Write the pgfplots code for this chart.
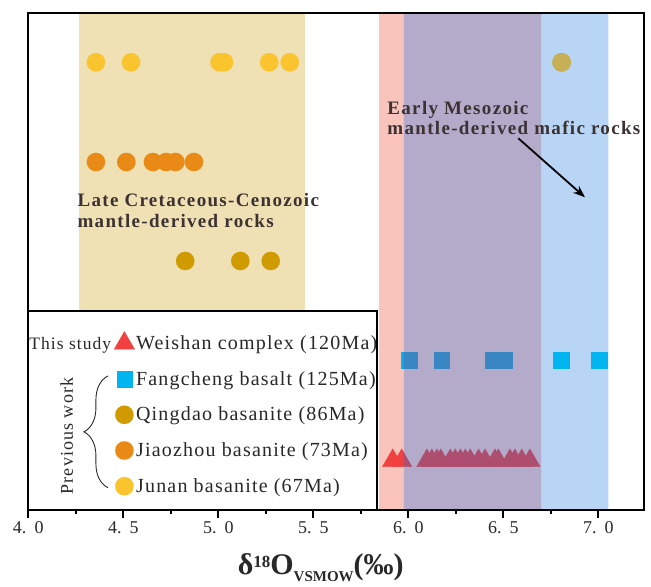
\documentclass[border=0pt]{standalone}
\usepackage{fontspec}
\setmainfont{Liberation Serif}
\newfontfamily\legfont{Liberation Serif}[LetterSpace=6]
\newfontfamily\notefont{Liberation Serif}[LetterSpace=7]
\usepackage{pgfplots}
\pgfplotsset{compat=1.18}
\usetikzlibrary{decorations.pathreplacing,arrows.meta}

\definecolor{tanband}{RGB}{240,225,180}
\definecolor{pinkband}{RGB}{249,196,188}
\definecolor{blueband}{RGB}{184,213,245}
\definecolor{purpleov}{RGB}{112,92,154}
\definecolor{junan}{RGB}{250,196,46}
\definecolor{jiaozhou}{RGB}{234,138,22}
\definecolor{qingdao}{RGB}{208,155,0}
\definecolor{fangcheng}{RGB}{0,180,240}
\definecolor{weishan}{RGB}{240,64,64}
\definecolor{notecol}{RGB}{60,50,50}
\definecolor{txt}{RGB}{40,40,40}

% marker styles of the five suites
\pgfplotsset{
  dot/.style={only marks, mark=*, mark size=9.2bp, color=#1, mark options={solid, fill=#1, draw=#1, line width=0.1bp}},
  sq/.style={only marks, mark=square*, mark size=7.8bp, color=#1, mark options={solid, fill=#1, draw=#1, line width=0.1bp}},
  tri/.style={only marks, mark=triangle*, mark size=12bp, color=#1, mark options={solid, fill=#1, draw=#1, line width=0.1bp}},
}

% delta-18O values of each suite (y = row position)
\pgfplotstableread{
x y
4.356 447.7
4.541 447.7
5.007 447.7
5.030 447.7
5.268 447.7
5.376 447.7
}\junan
\pgfplotstableread{
x y
4.356 348
4.516 348
4.656 348
4.725 348
4.774 348
4.872 348
}\jiaozhou
\pgfplotstableread{
x y
4.826 249
5.116 249
5.276 249
}\qingdao
\pgfplotstableread{
x y
6.005 150
6.174 150
6.446 150
6.504 150
6.804 150
7.004 150
}\fangcheng
\pgfplotstableread{
x y
5.918 49.3
5.965 49.3
6.098 49.3
6.124 49.3
6.151 49.3
6.171 49.3
6.221 49.3
6.247 49.3
6.274 49.3
6.300 49.3
6.326 49.3
6.370 49.3
6.404 49.3
6.456 49.3
6.474 49.3
6.535 49.3
6.561 49.3
6.597 49.3
6.640 49.3
}\weishan

\begin{document}
\begin{tikzpicture}
\path[use as bounding box] (-28.3bp,-77bp) rectangle (622.7bp,510bp);
\begin{axis}[
  scale only axis,
  width=615.7bp, height=497bp,
  xmin=4, xmax=7.2405, ymin=0, ymax=497,
  axis on top,
  axis line style={line width=2bp, black},
  xtick={4,4.5,5,5.5,6,6.5,7},
  xticklabels={4.\hspace{0.45em}0,4.\hspace{0.45em}5,5.\hspace{0.45em}0,5.\hspace{0.45em}5,6.\hspace{0.45em}0,6.\hspace{0.45em}5,7.\hspace{0.45em}0},
  minor x tick num=1,
  xtick pos=bottom, ytick=\empty,
  tick align=outside,
  major tick length=8bp, minor tick length=4bp,
  every tick/.style={line width=2bp, black},
  xticklabel style={font=\fontsize{18bp}{20bp}\selectfont, text=txt},
  xlabel={\textbf{δ\raisebox{7bp}{\fontsize{17bp}{17bp}\selectfont 18}O\raisebox{-7bp}{\fontsize{15bp}{15bp}\selectfont VSMOW}(‰)}},
  xlabel style={at={(rel axis cs:0.475,0)}, anchor=base, yshift=-64bp,
    font=\fontsize{30bp}{32bp}\selectfont, text=txt},
  clip mode=individual,
  legend cell align=left,
  legend style={at={(axis cs:4.4458,179)}, anchor=north west, draw=none, fill=none,
    inner sep=0pt, row sep=11.3bp, column sep=0pt,
    font=\legfont\fontsize{20bp}{22bp}\selectfont, text=txt,
    nodes={inner xsep=0.5bp, inner ysep=1bp}},
  legend image code/.code={\path (-11bp,-12bp) (11bp,12bp);
    \draw[#1] plot coordinates {(0bp,0bp)};},
]
% reference ranges
\addplot[draw=none, fill=tanband, forget plot] coordinates {(4.267,0) (4.267,497) (5.456,497) (5.456,0)} \closedcycle;
\addplot[draw=none, fill=pinkband, forget plot] coordinates {(5.847,0) (5.847,497) (5.976,497) (5.976,0)} \closedcycle;
\addplot[draw=none, fill=blueband, forget plot] coordinates {(6.701,0) (6.701,497) (7.053,497) (7.053,0)} \closedcycle;
\addplot[dot=qingdao, mark options={fill opacity=0.65, draw opacity=0.65}, forget plot]
  coordinates {(6.807,447.7)};

% samples
\addplot[dot=junan, forget plot] table {\junan};
\addplot[dot=jiaozhou, forget plot] table {\jiaozhou};
\addplot[dot=qingdao, forget plot] table {\qingdao};
\addplot[sq=fangcheng, forget plot] table {\fangcheng};
\addplot[tri=weishan, forget plot] table {\weishan};

% overlap of the two mantle ranges
\addplot[draw=none, fill=purpleov, fill opacity=0.52, forget plot] coordinates {(5.976,0) (5.976,497) (6.701,497) (6.701,0)} \closedcycle;

% legend frame and grouping
\draw[line width=1.5bp, fill=white] (axis cs:4,0) rectangle (axis cs:5.834,199);
\node[anchor=base east, inner sep=0pt, text=txt, font=\legfont\fontsize{17.5bp}{20bp}\selectfont]
  at (axis cs:4.437,160.7) {This study};
\node[rotate=90, inner sep=0pt, text=txt, font=\legfont\fontsize{18bp}{20bp}\selectfont]
  at (axis cs:4.202,74) {Previous work};
\draw[line width=0.9bp, txt, decorate, decoration={brace, amplitude=24bp}]
  (axis cs:4.419,22.3) -- (axis cs:4.419,134);

% annotations
\node[anchor=north west, align=left, inner sep=0pt, text=notecol,
  font=\notefont\bfseries\fontsize{19bp}{21bp}\selectfont]
  at (axis cs:4.258,316.7) {Late Cretaceous-Cenozoic\\mantle-derived rocks};
\node[anchor=north west, align=left, inner sep=0pt, text=notecol,
  font=\notefont\bfseries\fontsize{19bp}{20.3bp}\selectfont]
  at (axis cs:5.889,408.7) {Early Mesozoic\\mantle-derived mafic rocks};
\draw[line width=1.8bp, -{Stealth[length=12bp, width=9bp]}]
  (axis cs:6.579,371.7) -- (axis cs:6.930,312.7);

% legend entries
\addlegendimage{tri=weishan}
\addlegendentry{Weishan complex (120Ma)}
\addlegendimage{sq=fangcheng}
\addlegendentry{Fangcheng basalt (125Ma)}
\addlegendimage{dot=qingdao}
\addlegendentry{Qingdao basanite (86Ma)}
\addlegendimage{dot=jiaozhou}
\addlegendentry{Jiaozhou basanite (73Ma)}
\addlegendimage{dot=junan}
\addlegendentry{Junan basanite (67Ma)}
\end{axis}
\end{tikzpicture}
\end{document}
